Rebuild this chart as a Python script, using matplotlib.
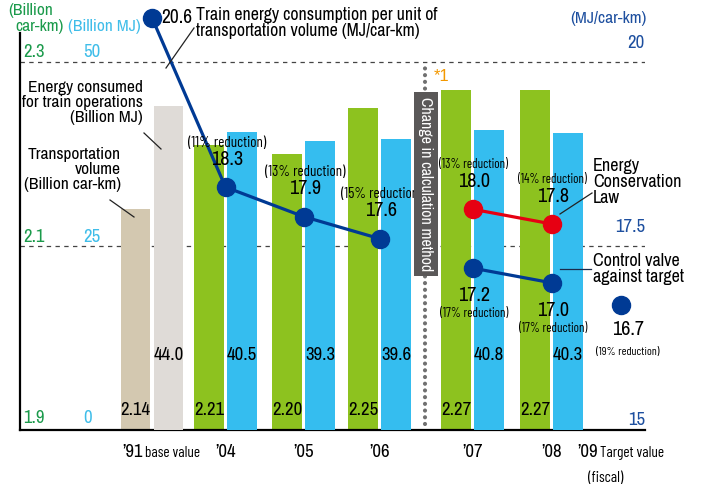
import matplotlib
matplotlib.use("Agg")
import matplotlib.pyplot as plt
from matplotlib import font_manager
from matplotlib.lines import Line2D

# -----------------------------
# DATA
# -----------------------------
years = ["\u201904", "\u201905", "\u201906", "\u201907", "\u201908"]
volume = [2.21, 2.20, 2.25, 2.27, 2.27]          # billion car-km
energy = [40.5, 39.3, 39.6, 40.8, 40.3]          # billion MJ
base_volume = 2.14                               # fiscal 1991
base_energy = 44.0
base_intensity = 20.6                            # MJ/car-km
intensity = [18.3, 17.9, 17.6]                   # '04 - '06
law_intensity = [18.0, 17.8]                     # '07 - '08, Energy Conservation Law basis
target_intensity = [17.2, 17.0]                  # '07 - '08, control value against target
target_2009 = 16.7
cuts = ["11%", "13%", "15%"]
law_cuts = ["13%", "14%"]
target_cuts = ["17%", "17%"]
cut_2009 = "19%"

# -----------------------------
# LAYOUT / STYLE
# -----------------------------
W, H = 705, 491
x_base = 132
x_groups = [205.5, 283.5, 359.5, 452.5, 531.5]
x_2009 = 601
x_split = 405
half = 16.5
bar_w = 29.5

GREEN = "#8dc21f"
SKY = "#35bdef"
TAN = "#d3c8b0"
LIGHT = "#dfdbd7"
NAVY = "#003a94"
RED = "#e60012"
TXT_GREEN = "#1b9a4b"
TXT_SKY = "#3fbde9"
TXT_NAVY = "#1d4f9f"

names = {f.name for f in font_manager.fontManager.ttflist}


def pick(*opts):
    for o in opts:
        if o in names:
            return [o, "DejaVu Sans"]
    return ["DejaVu Sans"]


NARROW = pick("Archivo Narrow", "Liberation Sans Narrow", "Liberation Sans")
COND = pick("Barlow Condensed", "Asap Condensed", "Archivo Narrow", "Liberation Sans")
NUM = pick("Archivo Narrow", "Liberation Sans")
PLAIN = pick("Liberation Sans")


def px(x, y):
    """pixel position (from top-left) -> figure fraction"""
    return x / W, 1 - y / H


def ftext(x, y, s, **kw):
    kw.setdefault("family", NARROW)
    fig.text(*px(x, y), s, **kw)


def fline(x0, y0, x1, y1, color="#222", lw=0.9):
    a, b = px(x0, y0)
    c, d = px(x1, y1)
    fig.add_artist(Line2D([a, c], [b, d], transform=fig.transFigure, color=color, lw=lw))


fig = plt.figure(figsize=(W / 100, H / 100), dpi=100)
ax = fig.add_axes([20 / W, 61 / H, 625 / W, 397 / H])
span = 397 / 184
ax.set_xlim(0, 625)
ax.set_ylim(1.9, 1.9 + 0.2 * span)
ax_mj = ax.twinx()
ax_mj.set_ylim(0, 25 * span)
ax_int = ax.twinx()
ax_int.set_ylim(15, 15 + 2.5 * span)

for a in (ax, ax_mj, ax_int):
    a.set_xticks([])
    a.set_yticks([])
    for s in a.spines.values():
        s.set_visible(False)
for side in ("left", "bottom"):
    ax.spines[side].set_visible(True)
    ax.spines[side].set_linewidth(1.6)

# reference levels
for lvl in (2.3, 2.1):
    ax.axhline(lvl, color="#444", lw=0.9, ls=(0, (3.5, 3.5)), zorder=0.5)

# change of calculation method divider
ax.plot([x_split, x_split], [1.906, 2.3], color="#707070", lw=3,
        ls=(0, (0.01, 1.6)), dash_capstyle="round", zorder=1)

# bars
ax.bar([x_base - half], [base_volume], width=bar_w, color=TAN, zorder=2)
ax_mj.bar([x_base + half], [base_energy], width=bar_w, color=LIGHT, zorder=2)
ax.bar([x - half for x in x_groups], volume, width=bar_w, color=GREEN, zorder=2)
ax_mj.bar([x + half for x in x_groups], energy, width=bar_w, color=SKY, zorder=2)

# bar value labels
ax.text(x_base - half, 1.9217, f"{base_volume:.2f}", ha="center", va="center",
        fontsize=13.5, family=NUM)
ax_mj.text(x_base + half, 10.2, f"{base_energy:.1f}", ha="center", va="center",
           fontsize=13.5, family=NUM)
for x, v, e in zip(x_groups, volume, energy):
    ax.text(x - half, 1.9217, f"{v:.2f}", ha="center", va="center",
            fontsize=13.5, family=NUM)
    ax_mj.text(x + half, 10.2, f"{e:.1f}", ha="center", va="center",
               fontsize=13.5, family=NUM)

# intensity lines
mk = dict(marker="o", markersize=13, lw=2.3, zorder=5, clip_on=False)
ax_int.plot([x_base] + x_groups[:3], [base_intensity] + intensity, color=NAVY, **mk)
ax_int.plot(x_groups[3:], law_intensity, color=RED, **mk)
ax_int.plot(x_groups[3:], target_intensity, color=NAVY, **mk)
ax_int.plot([x_2009], [target_2009], color=NAVY, **mk)


def tag(x, v, pct, up=True, dx=1.0, d1=20, d2=32, size=10.8):
    sgn = 1 if up else -1
    ax_int.annotate(f"{v:.1f}", (x, v), xytext=(dx, sgn * d1), textcoords="offset points",
                    ha="center", va="center", fontsize=14.5, family=NUM, zorder=6)
    ax_int.annotate(f"({pct} reduction)", (x, v), xytext=(dx, sgn * d2),
                    textcoords="offset points", ha="center", va="center",
                    fontsize=size, family=COND, zorder=6)


for x, v, p in zip(x_groups[:3], intensity, cuts):
    tag(x, v, p)
for x, v, p in zip(x_groups[3:], law_intensity, law_cuts):
    tag(x, v, p, size=9.3)
for x, v, p in zip(x_groups[3:], target_intensity, target_cuts):
    tag(x, v, p, up=False, d2=33, size=9.3)
tag(x_2009, target_2009, cut_2009, up=False, dx=5, d1=18, d2=34, size=8.5)
ax_int.annotate(f"{base_intensity:.1f}", (x_base, base_intensity), xytext=(7, 0),
                textcoords="offset points", ha="left", va="center",
                fontsize=14, family=NUM, annotation_clip=False)

# axis value labels
for y, g, b in ((52, "2.3", "50"), (237, "2.1", "25"), (418, "1.9", "0")):
    ftext(23, y, g, color=TXT_GREEN, fontsize=13.5, va="center", family=NUM)
    ftext(83, y, b, color=TXT_SKY, fontsize=13.5, va="center", family=NUM)
for y, r in ((43, "20"), (227, "17.5"), (420, "15")):
    ftext(645, y, r, color=TXT_NAVY, fontsize=13.5, va="center", ha="right", family=NUM)

# unit labels
ftext(31, 10, "(Billion", color=TXT_GREEN, fontsize=12.5, ha="center", va="center")
ftext(40, 27, "car-km)", color=TXT_GREEN, fontsize=12.5, ha="center", va="center")
ftext(68, 27, "(Billion MJ)", color=TXT_SKY, fontsize=12.5, va="center")
ftext(570, 19, "(MJ/car-km)", color=TXT_NAVY, fontsize=12.5, va="center")

# x labels
ftext(143, 452, "\u201991", fontsize=13.5, ha="right", va="center", family=NUM)
ftext(145, 453, "base value", fontsize=11, va="center", family=COND)
for x, lab in zip(x_groups, years):
    ftext(x + 20, 452, lab, fontsize=13.5, ha="center", va="center", family=NUM)
ftext(598, 452, "\u201909", fontsize=13.5, ha="right", va="center", family=NUM)
ftext(600, 453, "Target value", fontsize=11, va="center", family=COND)
ftext(606, 478, "(fiscal)", fontsize=11, ha="center", va="center", family=COND)

# callouts
ftext(196, 7, "Train energy consumption per unit of\ntransportation volume (MJ/car-km)",
      fontsize=12.8, va="top", linespacing=1.0)
fline(194, 28, 166, 68)
ftext(143, 80, "Energy consumed\nfor train operations\n(Billion MJ)", fontsize=12.5,
      ha="right", va="top", multialignment="right", linespacing=1.0)
fline(144, 133, 161, 149)
ftext(121, 147, "Transportation\nvolume\n(Billion car-km)", fontsize=12.5,
      ha="right", va="top", multialignment="right", linespacing=1.0)
fline(110, 200, 134, 217)
ftext(593, 158, "Energy\nConservation\nLaw", fontsize=13, va="top", linespacing=1.0)
fline(560, 214, 592, 193)
ftext(593, 253, "Control valve\nagainst target", fontsize=13, va="top", linespacing=1.0)
fline(560, 269, 591, 269, color="#1b2a4a")

# method change marker
ftext(426, 184, "Change in calculation method", fontsize=11.5, color="white",
      rotation=270, ha="center", va="center",
      bbox=dict(boxstyle="square,pad=0.3", fc="#5a5858", ec="none"))
ftext(434, 77, "*1", fontsize=12, color="#f39800", va="center", family=PLAIN)

fig.savefig("out.png", dpi=100)
